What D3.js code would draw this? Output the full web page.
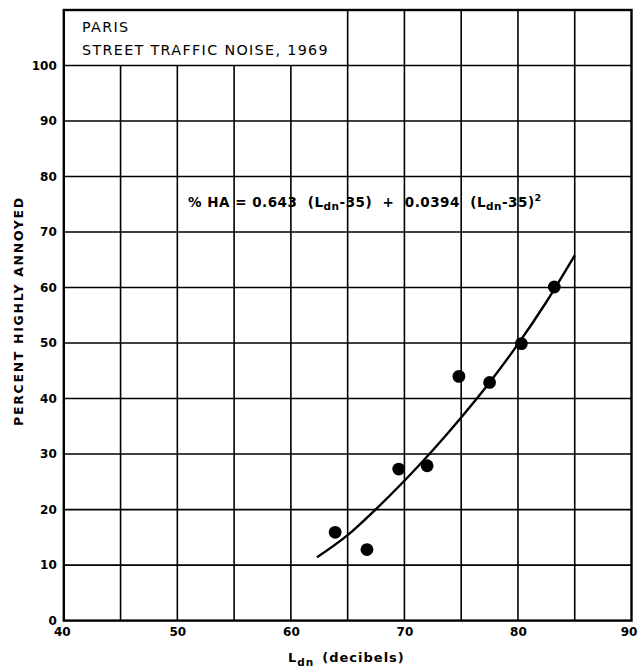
<!DOCTYPE html>
<html><head><meta charset="utf-8">
<script src="https://cdn.jsdelivr.net/npm/d3@7"></script>
<style>
html,body{margin:0;padding:0;background:#fff;}
svg{display:block;}
text{font-family:"DejaVu Sans",sans-serif;fill:#000;}
</style></head>
<body><svg id="c" width="639" height="669"></svg>
<script>
// Data
const ldn = [63.9, 66.7, 69.5, 72.0, 74.8, 77.5, 80.3, 83.2];
const pctHA = [15.9, 12.8, 27.3, 27.9, 44.0, 42.9, 49.9, 60.1];
const curveLdn = [62.3, 65, 67.5, 70, 72.5, 75, 77.5, 80, 82.5, 85];
const curvePct = [11.4, 15.4, 20.1, 25.2, 30.7, 36.6, 42.9, 49.8, 57.4, 65.8];
const xTicks = [40, 50, 60, 70, 80, 90];
const xGrid = [45, 50, 55, 60, 65, 70, 75, 80, 85];
const yTicks = [0, 10, 20, 30, 40, 50, 60, 70, 80, 90, 100];
const titleLines = ["PARIS", "STREET TRAFFIC NOISE, 1969"];

const svg = d3.select("#c");
const x = d3.scaleLinear().domain([40, 90]).range([63.8, 631.5]);
const y = d3.scaleLinear().domain([0, 110]).range([620.6, 10]);

const g = svg.append("g");
// vertical gridlines
g.selectAll("line.vg").data(xGrid).enter().append("line")
  .attr("x1", d => x(d)).attr("x2", d => x(d))
  .attr("y1", y(0)).attr("y2", d => d >= 65 ? y(110) : y(100))
  .attr("stroke", "#000").attr("stroke-width", 1.6);
// horizontal gridlines
g.selectAll("line.hg").data(yTicks.filter(d => d > 0)).enter().append("line")
  .attr("x1", x(40)).attr("x2", x(90))
  .attr("y1", d => y(d)).attr("y2", d => y(d))
  .attr("stroke", "#000").attr("stroke-width", 1.6);
// border
g.append("rect").attr("x", x(40)).attr("y", y(110))
  .attr("width", x(90) - x(40)).attr("height", y(0) - y(110))
  .attr("fill", "none").attr("stroke", "#000").attr("stroke-width", 2.4);

// axes (labels only)
const yAxis = d3.axisLeft(y).tickValues(yTicks).tickSize(0).tickPadding(7).tickFormat(d3.format("d"));
svg.append("g").attr("transform", `translate(${x(40)},0)`).call(yAxis)
  .call(a => a.select(".domain").remove())
  .selectAll("text").attr("font-size", 12).attr("font-weight", "bold").attr("font-family", "DejaVu Sans");
const xAxis = d3.axisBottom(x).tickValues(xTicks).tickSize(0).tickPadding(7).tickFormat(d3.format("d"));
svg.append("g").attr("transform", `translate(0,${y(0)})`).call(xAxis)
  .call(a => a.select(".domain").remove())
  .selectAll("text").attr("font-size", 12).attr("font-weight", "bold").attr("font-family", "DejaVu Sans")
  .attr("dx", d => d === 40 ? -2 : d === 90 ? -3 : 0);

// title
svg.append("g").selectAll("text").data(titleLines).enter().append("text")
  .attr("x", 82).attr("y", (d, i) => 32 + i * 22.5)
  .attr("font-size", 14.3).attr("letter-spacing", 1.35)
  .text(d => d);

// formula
const f = svg.append("text").attr("x", 188).attr("y", 207)
  .attr("font-size", 13.5).attr("font-weight", "bold").attr("letter-spacing", 0.5)
  .attr("xml:space", "preserve").style("white-space", "pre");
f.append("tspan").text("% HA = 0.643  (L");
f.append("tspan").attr("dy", 3).attr("font-size", 10.5).text("dn");
f.append("tspan").attr("dy", -3).text("-35)  +  0.0394  (L");
f.append("tspan").attr("dy", 3).attr("font-size", 10.5).text("dn");
f.append("tspan").attr("dy", -3).text("-35)");
f.append("tspan").attr("dy", -6).attr("font-size", 9.5).text("2");

// curve
const pts = curveLdn.map((d, i) => [d, curvePct[i]]);
svg.append("path").datum(pts)
  .attr("d", d3.line().x(d => x(d[0])).y(d => y(d[1])).curve(d3.curveCatmullRom.alpha(0.5)))
  .attr("fill", "none").attr("stroke", "#000").attr("stroke-width", 2.4);

// points
svg.append("g").selectAll("circle").data(ldn.map((d, i) => [d, pctHA[i]])).enter().append("circle")
  .attr("cx", d => x(d[0])).attr("cy", d => y(d[1])).attr("r", 6.4).attr("fill", "#000");

// y label
svg.append("text").attr("transform", "translate(23,311) rotate(-90)")
  .attr("text-anchor", "middle").attr("font-size", 12.5).attr("font-weight", "bold").attr("letter-spacing", 1.7)
  .text("PERCENT HIGHLY ANNOYED");

// x label
const xl = svg.append("text").attr("x", 288).attr("y", 662)
  .attr("font-size", 13).attr("font-weight", "bold").attr("letter-spacing", 1);
xl.append("tspan").text("L");
xl.append("tspan").attr("dy", 4).attr("font-size", 10.5).text("dn");
xl.append("tspan").attr("dy", -4).attr("dx", 8).text("(decibels)");
</script></body></html>
